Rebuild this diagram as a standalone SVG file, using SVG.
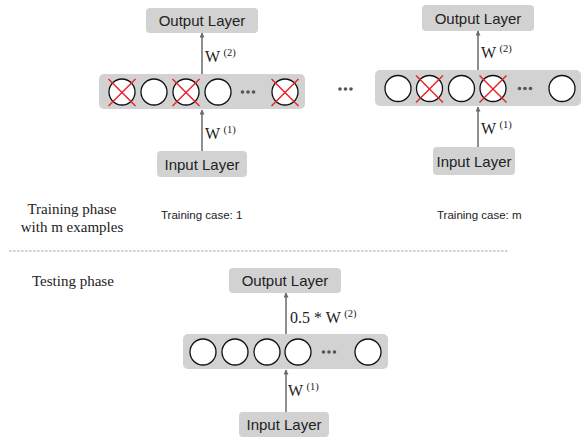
<svg xmlns="http://www.w3.org/2000/svg" width="582" height="442" viewBox="0 0 582 442">
<style>
.box{fill:#d2d2d2}
.lbl{font-family:"Liberation Sans",Arial,sans-serif;font-size:15px;fill:#222;text-anchor:middle}
.case{font-family:"Liberation Sans",Arial,sans-serif;font-size:11.5px;fill:#222}
.ser{font-family:"Liberation Serif","Times New Roman",serif;font-size:15px;fill:#222}
.w{font-family:"Liberation Serif","Times New Roman",serif;font-size:16px;fill:#222}
.sup{font-size:10.5px}
.unit{fill:#fff;stroke:#111;stroke-width:1.3}
.x{stroke:#e8202a;stroke-width:1.4}
.arr{stroke:#6a6a6a;stroke-width:1.5;fill:none;marker-end:url(#ah)}
.dot{fill:#555}
</style>
<defs>
<marker id="ah" viewBox="0 0 10 10" refX="9" refY="5" markerWidth="5" markerHeight="5" orient="auto" markerUnits="userSpaceOnUse">
<path d="M0,0 L10,5 L0,10 z" fill="#6a6a6a"/>
</marker>
<g id="dots"><circle cx="-5.5" cy="0" r="1.8" class="dot"/><circle cx="0" cy="0" r="1.8" class="dot"/><circle cx="5.5" cy="0" r="1.8" class="dot"/></g>
<g id="xx"><line x1="-13.5" y1="-13" x2="13.5" y2="14" class="x"/><line x1="13.5" y1="-13" x2="-13.5" y2="14" class="x"/></g>
</defs>

<g id="connectors">
<line x1="202" y1="74" x2="202" y2="33" class="arr"/>
<line x1="202" y1="151" x2="202" y2="110" class="arr"/>
<line x1="478" y1="70" x2="478" y2="31" class="arr"/>
<line x1="478" y1="147" x2="478" y2="107" class="arr"/>
<line x1="286" y1="334" x2="286" y2="293" class="arr"/>
<line x1="286" y1="412" x2="286" y2="370" class="arr"/>
</g>

<g id="case1">
<g id="out1"><rect class="box" x="146" y="8" width="112" height="25" rx="4"/><text class="lbl" x="202" y="26">Output Layer</text></g>
<text class="w" x="205" y="62">W<tspan class="sup" dx="3.5" dy="-6">(2)</tspan></text>
<g id="hid1">
<rect class="box" x="99" y="74" width="206" height="35" rx="5"/>
<circle class="unit" cx="122" cy="92" r="13"/>
<circle class="unit" cx="154" cy="92" r="13"/>
<circle class="unit" cx="186" cy="92" r="13"/>
<circle class="unit" cx="218" cy="92" r="13"/>
<use href="#dots" x="248" y="92"/>
<circle class="unit" cx="285" cy="92" r="13"/>
<use href="#xx" x="122" y="92"/>
<use href="#xx" x="186" y="92"/>
<use href="#xx" x="285" y="92"/>
</g>
<text class="w" x="205" y="139">W<tspan class="sup" dx="3.5" dy="-6">(1)</tspan></text>
<g id="in1"><rect class="box" x="157" y="151" width="90" height="26" rx="4"/><text class="lbl" x="202" y="169.5">Input Layer</text></g>
</g>

<use href="#dots" x="345.5" y="89"/>

<g id="casem">
<g id="outm"><rect class="box" x="422" y="5" width="112" height="26" rx="4"/><text class="lbl" x="478" y="23.5">Output Layer</text></g>
<text class="w" x="481" y="58">W<tspan class="sup" dx="3.5" dy="-6">(2)</tspan></text>
<g id="hidm">
<rect class="box" x="375" y="70" width="206" height="36" rx="5"/>
<circle class="unit" cx="398" cy="88.5" r="13"/>
<circle class="unit" cx="429.5" cy="88.5" r="13"/>
<circle class="unit" cx="461.5" cy="88.5" r="13"/>
<circle class="unit" cx="493" cy="88.5" r="13"/>
<use href="#dots" x="525" y="88.5"/>
<circle class="unit" cx="562" cy="88.5" r="13"/>
<use href="#xx" x="429.5" y="88.5"/>
<use href="#xx" x="493" y="88.5"/>
</g>
<text class="w" x="481" y="134">W<tspan class="sup" dx="3.5" dy="-6">(1)</tspan></text>
<g id="inm"><rect class="box" x="433" y="147" width="82" height="28" rx="4"/><text class="lbl" x="474" y="166.5">Input Layer</text></g>
</g>

<text class="ser" x="72" y="214" text-anchor="middle">Training phase</text>
<text class="ser" x="72" y="232" text-anchor="middle">with m examples</text>
<text class="case" x="161" y="219">Training case: 1</text>
<text class="case" x="437" y="219">Training case: m</text>

<line x1="9" y1="251" x2="508" y2="251" stroke="#8a8a8a" stroke-width="0.8" stroke-dasharray="2.5,1.5"/>

<text class="ser" x="32" y="286">Testing phase</text>

<g id="test">
<g id="outt"><rect class="box" x="229" y="268" width="112" height="25" rx="4"/><text class="lbl" x="285" y="286">Output Layer</text></g>
<text class="w" x="290" y="323">0.5 * W<tspan class="sup" dx="3.5" dy="-6">(2)</tspan></text>
<g id="hidt">
<rect class="box" x="183" y="334" width="205" height="35" rx="5"/>
<circle class="unit" cx="203" cy="352" r="13"/>
<circle class="unit" cx="235" cy="352" r="13"/>
<circle class="unit" cx="267" cy="352" r="13"/>
<circle class="unit" cx="298" cy="352" r="13"/>
<use href="#dots" x="329" y="352"/>
<circle class="unit" cx="368" cy="352" r="13"/>
</g>
<text class="w" x="288" y="396">W<tspan class="sup" dx="3.5" dy="-6">(1)</tspan></text>
<g id="int"><rect class="box" x="239" y="412" width="90" height="25" rx="4"/><text class="lbl" x="284" y="430">Input Layer</text></g>
</g>
</svg>
